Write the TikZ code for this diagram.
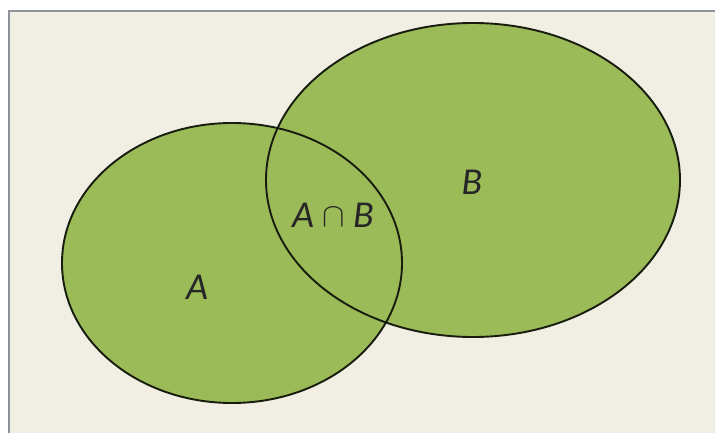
\documentclass[tikz,border=0pt]{standalone}
\usepackage{fontspec}
\setmainfont{Carlito}
\definecolor{panel}{HTML}{F1EEE4}
\definecolor{setgreen}{HTML}{9BBB59}
\definecolor{rim}{HTML}{8E9399}
\begin{document}
\begin{tikzpicture}[x=1pt,y=-1pt,
  setfill/.style={fill=setgreen,draw=none},
  setrim/.style={draw=black!85!setgreen,line width=1.9pt},
  setlabel/.style={font=\fontsize{38}{38}\selectfont\itshape,text=black!85}]
  \useasboundingbox (0,0) rectangle (715,433);
  \fill[white] (0,0) rectangle (715,433);
  % panel behind the diagram
  \fill[panel] (9,11) rectangle (715,433);
  \draw[rim,line width=2pt] (9,433) -- (9,11) -- (715,11);
  % the two sets
  \fill[setfill] (232,263) ellipse [x radius=170,y radius=140];
  \fill[setfill] (473,180) ellipse [x radius=207,y radius=157];
  \draw[setrim] (232,263) ellipse [x radius=170,y radius=140];
  \draw[setrim] (473,180) ellipse [x radius=207,y radius=157];
  % labels
  \node[setlabel] (la) at (197,287) {A};
  \node[setlabel] (lb) at (472,182) {B};
  \node[setlabel] (lab) at (333,215) {A\hspace{0.22em}\raisebox{0.05ex}{\scalebox{1.35}{$\cap$}}\hspace{0.22em}B};
\end{tikzpicture}
\end{document}
